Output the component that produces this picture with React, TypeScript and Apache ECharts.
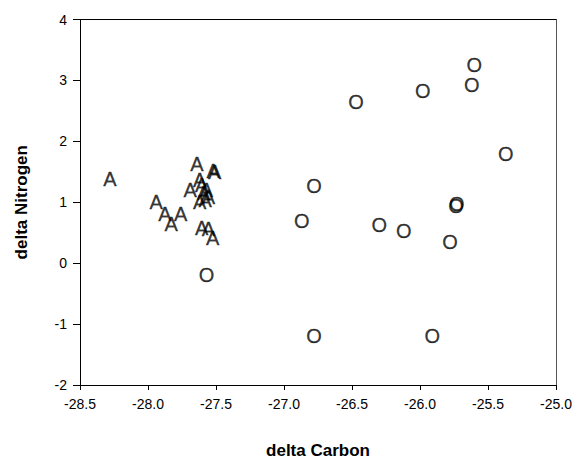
import React, { useEffect, useRef } from "react";
import * as echarts from "echarts";

// Group "A" points: [delta Carbon, delta Nitrogen]
const groupAX = [-28.28, -27.94, -27.875, -27.83, -27.76, -27.64, -27.52, -27.51, -27.69, -27.62, -27.605, -27.59, -27.58, -27.556, -27.62, -27.57, -27.605, -27.556, -27.525];
const groupAY = [1.38, 1.01, 0.8, 0.65, 0.8, 1.63, 1.52, 1.49, 1.2, 1.36, 1.28, 1.15, 1.04, 1.09, 1.01, 1.2, 0.58, 0.56, 0.42];

// Group "O" points
const groupOX = [-25.6, -25.62, -25.98, -26.47, -25.37, -26.78, -25.73, -25.735, -26.87, -26.3, -26.12, -25.78, -26.78, -25.91, -27.57];
const groupOY = [3.26, 2.93, 2.83, 2.64, 1.8, 1.27, 0.97, 0.94, 0.7, 0.62, 0.53, 0.34, -1.19, -1.19, -0.19];

const xTicks = [-28.5, -28.0, -27.5, -27.0, -26.5, -26.0, -25.5, -25.0];
const yTicks = [-2, -1, 0, 1, 2, 3, 4];

const FONT = "'Liberation Sans', Arial, sans-serif";

function pairs(xs: number[], ys: number[]) {
  return xs.map((x, i) => [x, ys[i]]);
}

function markerSeries(name: string, letter: string, data: number[][]) {
  return {
    name,
    type: "scatter",
    xAxisIndex: 0,
    yAxisIndex: 0,
    data,
    symbol: "circle",
    symbolSize: 1,
    itemStyle: { color: "rgba(0,0,0,0)" },
    label: {
      show: true,
      position: "inside",
      formatter: letter,
      color: "#000",
      fontFamily: FONT,
      fontSize: 20,
      textBorderColor: "#000",
      textBorderWidth: 0.3,
    },
    emphasis: { disabled: true },
    silent: true,
  };
}

export default function App() {
  const ref = useRef<HTMLDivElement>(null);
  useEffect(() => {
    if (!ref.current) return;
    const chart = echarts.init(ref.current, undefined, { renderer: "svg" });
    chart.setOption({
      animation: false,
      backgroundColor: "#fff",
      grid: { left: 80, right: 25, top: 19.5, bottom: 72 },
      xAxis: [
        {
          type: "value",
          min: -28.5,
          max: -25.0,
          interval: 0.5,
          name: "delta Carbon",
          nameLocation: "middle",
          nameGap: 57,
          nameTextStyle: { fontFamily: FONT, fontSize: 17, fontWeight: "bold", color: "#000" },
          axisLine: { show: true, onZero: false, lineStyle: { color: "#000", width: 1 } },
          axisTick: { show: true, length: 5, lineStyle: { color: "#000" } },
          axisLabel: {
            fontFamily: FONT,
            fontSize: 14,
            color: "#000",
            margin: 12,
            formatter: (v: number) => (xTicks.includes(v) ? v.toFixed(1) : ""),
          },
          splitLine: { show: false },
        },
        {
          type: "value",
          position: "top",
          min: -28.5,
          max: -25.0,
          axisLine: { show: true, onZero: false, lineStyle: { color: "#000", width: 1 } },
          axisTick: { show: false },
          axisLabel: { show: false },
          splitLine: { show: false },
        },
      ],
      yAxis: [
        {
          type: "value",
          min: -2,
          max: 4,
          interval: 1,
          name: "delta Nitrogen",
          nameLocation: "middle",
          nameGap: 50,
          nameTextStyle: { fontFamily: FONT, fontSize: 17, fontWeight: "bold", color: "#000" },
          axisLine: { show: true, onZero: false, lineStyle: { color: "#000", width: 1 } },
          axisTick: { show: true, length: 7, lineStyle: { color: "#000" } },
          axisLabel: {
            fontFamily: FONT,
            fontSize: 14,
            color: "#000",
            margin: 13,
            formatter: (v: number) => (yTicks.includes(v) ? String(v) : ""),
          },
          splitLine: { show: false },
        },
        {
          type: "value",
          position: "right",
          min: -2,
          max: 4,
          axisLine: { show: true, onZero: false, lineStyle: { color: "#555", width: 1 } },
          axisTick: { show: false },
          axisLabel: { show: false },
          splitLine: { show: false },
        },
      ],
      series: [
        markerSeries("A", "A", pairs(groupAX, groupAY)),
        markerSeries("O", "O", pairs(groupOX, groupOY)),
      ],
    });
    return () => chart.dispose();
  }, []);
  return <div ref={ref} style={{ width: 581, height: 464, position: "absolute", left: 0, top: 0 }} />;
}
